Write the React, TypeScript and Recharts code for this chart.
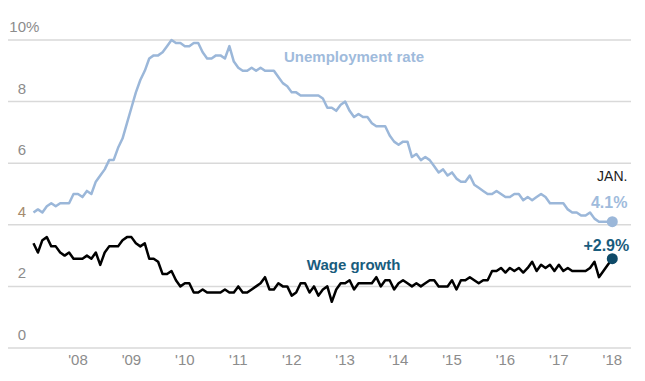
import React from "react";
import { LineChart, Line, XAxis, YAxis, CartesianGrid, ReferenceDot } from "recharts";

// Months relative to Jan 2008; the series start in Mar 2007
const START_MONTH = -10;

// Unemployment rate, monthly, Mar 2007 - Jan 2018
const unemployment = [
  4.4, 4.5, 4.4, 4.6, 4.7, 4.6, 4.7, 4.7, 4.7, 5.0,
  5.0, 4.9, 5.1, 5.0, 5.4, 5.6, 5.8, 6.1, 6.1, 6.5, 6.8, 7.3,
  7.8, 8.3, 8.7, 9.0, 9.4, 9.5, 9.5, 9.6, 9.8, 10.0, 9.9, 9.9,
  9.8, 9.8, 9.9, 9.9, 9.6, 9.4, 9.4, 9.5, 9.5, 9.4, 9.8, 9.3,
  9.1, 9.0, 9.0, 9.1, 9.0, 9.1, 9.0, 9.0, 9.0, 8.8, 8.6, 8.5,
  8.3, 8.3, 8.2, 8.2, 8.2, 8.2, 8.2, 8.1, 7.8, 7.8, 7.7, 7.9,
  8.0, 7.7, 7.5, 7.6, 7.5, 7.5, 7.3, 7.2, 7.2, 7.2, 6.9, 6.7,
  6.6, 6.7, 6.7, 6.2, 6.3, 6.1, 6.2, 6.1, 5.9, 5.7, 5.8, 5.6,
  5.7, 5.5, 5.4, 5.4, 5.6, 5.3, 5.2, 5.1, 5.0, 5.0, 5.1, 5.0,
  4.9, 4.9, 5.0, 5.0, 4.8, 4.9, 4.8, 4.9, 5.0, 4.9, 4.7, 4.7,
  4.7, 4.7, 4.5, 4.4, 4.4, 4.3, 4.3, 4.4, 4.2, 4.1, 4.1, 4.1,
  4.1,
];

// Wage growth (year over year), monthly, Mar 2007 - Jan 2018
const wageGrowth = [
  3.4, 3.1, 3.5, 3.6, 3.3, 3.3, 3.1, 3.0, 3.1, 2.9,
  2.9, 2.9, 3.0, 2.9, 3.1, 2.7, 3.1, 3.3, 3.3, 3.3, 3.5, 3.6,
  3.6, 3.4, 3.3, 3.4, 2.9, 2.9, 2.8, 2.4, 2.4, 2.5, 2.2, 2.0,
  2.1, 2.1, 1.8, 1.8, 1.9, 1.8, 1.8, 1.8, 1.8, 1.9, 1.8, 1.8,
  2.0, 1.8, 1.8, 1.9, 2.0, 2.1, 2.3, 1.9, 1.9, 2.1, 2.0, 2.0,
  1.7, 1.8, 2.1, 2.1, 1.8, 2.0, 1.7, 1.9, 2.0, 1.5, 1.9, 2.1,
  2.1, 2.2, 1.9, 2.1, 2.1, 2.1, 2.1, 2.3, 2.0, 2.2, 2.2, 1.9,
  2.1, 2.2, 2.1, 2.0, 2.1, 2.0, 2.1, 2.2, 2.2, 2.0, 2.0, 2.0,
  2.2, 1.9, 2.2, 2.2, 2.3, 2.2, 2.1, 2.2, 2.2, 2.5, 2.5, 2.6,
  2.45, 2.6, 2.5, 2.6, 2.45, 2.6, 2.8, 2.5, 2.7, 2.6, 2.7, 2.5,
  2.7, 2.5, 2.6, 2.5, 2.5, 2.5, 2.5, 2.6, 2.8, 2.3, 2.5, 2.7,
  2.9,
];

const xTicks = [0, 12, 24, 36, 48, 60, 72, 84, 96, 108, 120];
const xTickLabels = ["'08", "'09", "'10", "'11", "'12", "'13", "'14", "'15", "'16", "'17", "'18"];
const yTicks = [0, 2, 4, 6, 8, 10];
const yTickLabels = ["0", "2", "4", "6", "8", "10"];

const data = unemployment.map((u, i) => ({
  t: START_MONTH + i,
  unemployment: u,
  wage: wageGrowth[i],
}));

const LAST = data[data.length - 1];

const FONT = "'Liberation Sans', Arial, sans-serif";
const UNEMP_COLOR = "#9bb7d9";
const WAGE_COLOR = "#000000";
const WAGE_LABEL = "#195c7d";
const WAGE_DOT = "#0e4a68";
const TICK_COLOR = "#8c8c8c";

const YTick = (props: any) => {
  const { y, payload } = props;
  const idx = yTicks.indexOf(payload.value);
  const label = yTickLabels[idx] ?? String(payload.value);
  const color = payload.value === 4 ? "#a58a6c" : TICK_COLOR;
  return (
    <g>
      <text x={18} y={y - 8} textAnchor="end" fill={color} fontSize={15} fontFamily={FONT}>
        {label}
      </text>
      {payload.value === 10 ? (
        <text x={18} y={y - 8} textAnchor="start" fill={color} fontSize={15} fontFamily={FONT}>
          %
        </text>
      ) : null}
    </g>
  );
};

const XTick = (props: any) => {
  const { x, y, payload } = props;
  const idx = xTicks.indexOf(payload.value);
  return (
    <text x={x} y={y} dy={17} textAnchor="middle" fill={TICK_COLOR} fontSize={15} fontFamily={FONT}>
      {xTickLabels[idx]}
    </text>
  );
};

const textShape = (text: string, anchor: string, color: string, size: number, weight: any) =>
  (p: any) => (
    <text
      x={p.cx}
      y={p.cy}
      textAnchor={anchor}
      dominantBaseline="central"
      fill={color}
      fontSize={size}
      fontWeight={weight}
      fontFamily={FONT}
    >
      {text}
    </text>
  );

const annotations = [
  { text: "Unemployment rate", x: 62, y: 9.46, anchor: "middle", color: "#9fbbdc", size: 15, weight: 700 },
  { text: "Wage growth", x: 61.9, y: 2.71, anchor: "middle", color: WAGE_LABEL, size: 15, weight: 700 },
  { text: "JAN.", x: 123.4, y: 5.59, anchor: "end", color: "#222222", size: 14, weight: 400 },
  { text: `${LAST.unemployment.toFixed(1)}%`, x: 123.4, y: 4.74, anchor: "end", color: "#9fbbdc", size: 16, weight: 700 },
  { text: `+${LAST.wage.toFixed(1)}%`, x: 123.8, y: 3.33, anchor: "end", color: WAGE_LABEL, size: 16, weight: 700 },
];

export default function App() {
  return (
    <div style={{ width: 630, height: 365 }}>
      <LineChart width={630} height={365} data={data} margin={{ top: 32, right: 7, bottom: 0, left: 0 }}>
        <CartesianGrid vertical={false} stroke="#d9d9d9" strokeWidth={1.5} />
        <XAxis
          dataKey="t"
          type="number"
          domain={[-15.72, 124.2]}
          ticks={xTicks}
          tick={<XTick />}
          tickLine={false}
          axisLine={false}
          tickSize={0}
          tickMargin={0}
          height={25}
          interval={0}
        />
        <YAxis
          type="number"
          domain={[0, 10]}
          ticks={yTicks}
          tick={<YTick />}
          tickLine={false}
          axisLine={false}
          mirror
          width={30}
          interval={0}
        />
        <Line
          type="linear"
          dataKey="unemployment"
          stroke={UNEMP_COLOR}
          strokeWidth={2.5}
          dot={false}
          strokeLinejoin="round"
          isAnimationActive={false}
        />
        <Line
          type="linear"
          dataKey="wage"
          stroke={WAGE_COLOR}
          strokeWidth={2.5}
          dot={false}
          strokeLinejoin="round"
          isAnimationActive={false}
        />
        <ReferenceDot x={LAST.t} y={LAST.unemployment} r={5.5} fill={UNEMP_COLOR} stroke="none" ifOverflow="visible" />
        <ReferenceDot x={LAST.t} y={LAST.wage} r={5.5} fill={WAGE_DOT} stroke="none" ifOverflow="visible" />
        {annotations.map((a) => (
          <ReferenceDot
            key={a.text}
            x={a.x}
            y={a.y}
            r={0}
            ifOverflow="visible"
            shape={textShape(a.text, a.anchor, a.color, a.size, a.weight)}
          />
        ))}
      </LineChart>
    </div>
  );
}
